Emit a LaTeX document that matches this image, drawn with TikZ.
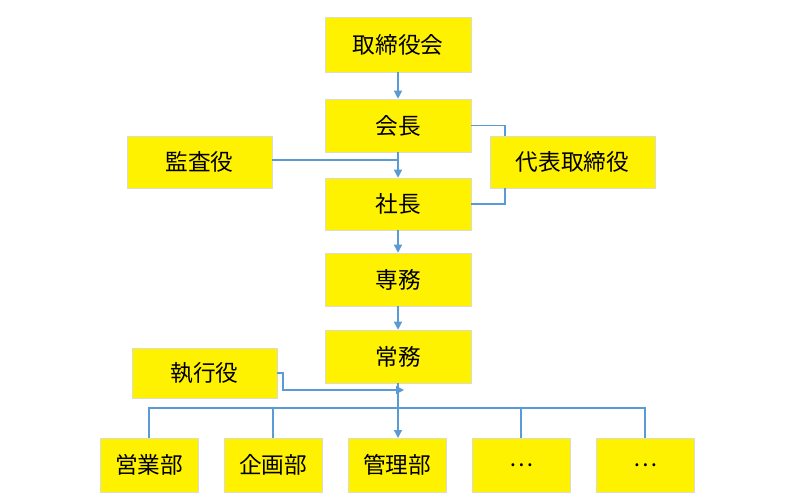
\documentclass[tikz,border=0pt]{standalone}
\usepackage{fontspec}
\setmainfont{Noto Sans CJK JP}
\usetikzlibrary{arrows.meta}
\definecolor{ln}{RGB}{91,155,213}
\definecolor{bd}{RGB}{220,220,200}
\begin{document}
\begin{tikzpicture}[x=0.75pt,y=-0.75pt,
  box/.style={draw=bd,fill=yellow,inner sep=0pt,font=\fontsize{17}{17}\selectfont},
  con/.style={draw=ln,line width=0.9pt},
  arr/.style={con,-{Triangle[width=6pt,length=6pt]}}]
\useasboundingbox (0,0) rectangle (800,500);
\newcommand{\bx}[6]{\node[box,minimum width=#4*0.75pt,minimum height=#5*0.75pt] (#1) at (#2,#3) {#6};}
\bx{a}{398}{44.5}{146}{55}{取締役会}
\bx{b}{398}{125.5}{146}{53}{会長}
\bx{k}{199.5}{162}{145}{52}{監査役}
\bx{d}{572.5}{162}{165}{52}{代表取締役}
\bx{c}{398}{204}{146}{52}{社長}
\bx{e}{398}{279.5}{146}{53}{専務}
\bx{f}{398}{356.5}{146}{53}{常務}
\bx{g}{204.5}{373}{145}{50}{執行役}
\bx{p1}{149}{465}{98}{54}{営業部}
\bx{p2}{273}{465}{98}{54}{企画部}
\bx{p3}{397}{465}{98}{54}{管理部}
\bx{p4}{521}{465}{98}{54}{…}
\bx{p5}{645}{465}{98}{54}{…}
\draw[arr] (a) -- (b);
\draw[arr] (b) -- (c);
\draw[con] (k.east |- 0,160) -- (398,160);
\draw[con] (b.east) -- (505,125.5) -- (505,136);
\draw[con] (505,188) -- (505,204) -- (c.east);
\draw[arr] (c) -- (e);
\draw[arr] (e) -- (f);
\draw[arr] (398,383) -- (398,438);
\draw[arr] (g.east) -- (283,373) -- (283,390) -- (404,390);
\draw[con] (p1.north) -- (149,408) -- (645,408) -- (p5.north);
\draw[con] (p2.north) -- (273,408);
\draw[con] (p4.north) -- (521,408);
\end{tikzpicture}
\end{document}
